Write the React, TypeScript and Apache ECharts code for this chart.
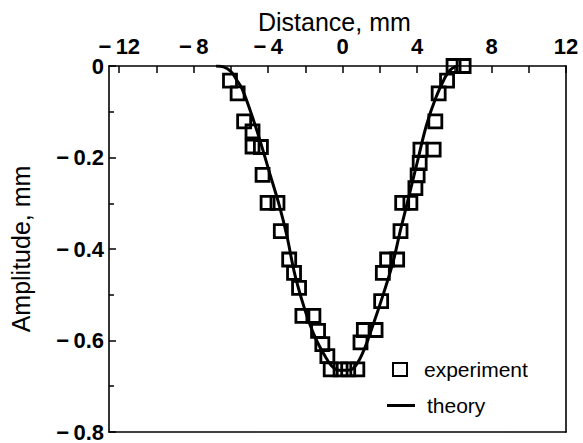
import React, { useEffect, useRef } from "react";
import * as echarts from "echarts";

// Measured surface profile: position (mm) and amplitude (mm)
const expDistance = [
  -6.05, -5.64, -5.29, -4.84, -4.84, -4.39, -4.3, -4.03, -3.5, -3.32, -2.87, -2.61, -2.34, -2.16,
  -1.57, -1.32, -1.09, -0.82, -0.64, -0.11, 0.3, 0.79, 0.96, 1.14, 1.77, 2.07, 2.16, 2.39, 2.93,
  3.11, 3.2, 3.64, 3.91, 4.03, 4.14, 4.18, 4.89, 4.98, 5.16, 5.61, 5.96, 6.5,
];
const expAmplitude = [
  -0.032, -0.06, -0.121, -0.143, -0.176, -0.177, -0.238, -0.299, -0.299, -0.361, -0.423, -0.452,
  -0.485, -0.546, -0.546, -0.579, -0.608, -0.634, -0.663, -0.663, -0.663, -0.663, -0.604, -0.577,
  -0.577, -0.514, -0.452, -0.423, -0.423, -0.361, -0.299, -0.299, -0.267, -0.239, -0.212, -0.183,
  -0.183, -0.121, -0.06, -0.032, 0, 0,
];

// Predicted profile
const theoryDistance = [
  -6.8, -6.4, -6.0, -5.7, -5.4, -4.9, -4.4, -3.9, -3.4, -3.0, -2.6, -2.2, -1.8, -1.4, -1.0, -0.6,
  -0.2, 0.2, 0.6, 1.1, 1.6, 2.2, 2.7, 3.1, 3.5, 4.0, 4.5, 5.0, 5.5, 5.8, 6.1,
];
const theoryAmplitude = [
  0, -0.002, -0.012, -0.03, -0.05, -0.105, -0.168, -0.237, -0.305, -0.37, -0.45, -0.51, -0.56,
  -0.6, -0.63, -0.655, -0.665, -0.665, -0.66, -0.625, -0.57, -0.497, -0.43, -0.36, -0.295, -0.212,
  -0.13, -0.07, -0.025, -0.008, 0,
];

const xTicks = [-12, -10, -8, -6, -4, -2, 0, 2, 4, 6, 8, 10, 12];
const xLabels = [-12, -8, -4, 0, 4, 8, 12];

const FONT = "'Liberation Sans', Arial, Helvetica, sans-serif";

// Minus sign followed by a thin space, as in the printed axis labels
const fmtNeg = (v: number, digits: number) =>
  v === 0
    ? "0"
    : v < 0
    ? "\u2212\u2009" + Math.abs(v).toFixed(digits)
    : Math.abs(v).toFixed(digits);

export default function App() {
  const ref = useRef<HTMLDivElement>(null);

  useEffect(() => {
    if (!ref.current) return;
    const chart = echarts.init(ref.current, null, { renderer: "svg" });

    const expData = expDistance.map((x, i) => [x, expAmplitude[i]]);
    const theoryData = theoryDistance.map((x, i) => [x, theoryAmplitude[i]]);

    const axisLine = { show: true, onZero: false, lineStyle: { color: "#000", width: 1.6 } };

    chart.setOption({
      animation: false,
      backgroundColor: "#fff",
      textStyle: { fontFamily: FONT, color: "#000" },
      title: {
        text: "Distance, mm",
        left: 253,
        top: 3,
        textStyle: {
          fontFamily: FONT,
          fontSize: 25,
          lineHeight: 27,
          fontWeight: "normal",
          color: "#000",
        },
      },
      grid: { left: 108, right: 17, top: 66, bottom: 10 },
      legend: [
        {
          data: [{ name: "experiment", icon: "rect" }],
          left: 387,
          top: 354,
          itemWidth: 14,
          itemHeight: 13,
          textStyle: {
            fontFamily: FONT,
            fontSize: 21,
            color: "#000",
            padding: [0, 0, 0, 12],
          },
        },
        {
          data: [{ name: "theory", icon: "rect" }],
          left: 382,
          top: 390,
          itemWidth: 28,
          itemHeight: 3,
          textStyle: {
            fontFamily: FONT,
            fontSize: 21,
            color: "#000",
            padding: [0, 0, 0, 7],
          },
        },
      ],
      xAxis: [
        {
          type: "value",
          position: "top",
          min: -12.55,
          max: 12,
          axisLine,
          splitLine: { show: false },
          axisTick: {
            show: true,
            inside: true,
            length: 7,
            customValues: xTicks,
            lineStyle: { color: "#000", width: 1.5 },
          },
          axisLabel: {
            customValues: xLabels,
            margin: 11,
            fontFamily: FONT,
            fontSize: 22,
            lineHeight: 18,
            fontWeight: "bold",
            color: "#000",
            formatter: (v: number) => fmtNeg(v, 0),
          },
        },
        {
          type: "value",
          position: "bottom",
          min: -12.55,
          max: 12,
          axisLine,
          axisTick: { show: false },
          axisLabel: { show: false },
          splitLine: { show: false },
        },
      ],
      yAxis: [
        {
          type: "value",
          position: "left",
          min: -0.8,
          max: 0,
          interval: 0.2,
          axisLine,
          splitLine: { show: false },
          axisTick: { show: true, inside: true, length: 7, lineStyle: { color: "#000", width: 1.5 } },
          minorTick: { show: true, splitNumber: 2, length: 5, lineStyle: { color: "#000", width: 1.5 } },
          axisLabel: {
            margin: 5,
            fontFamily: FONT,
            fontSize: 22,
            lineHeight: 20,
            fontWeight: "bold",
            color: "#000",
            formatter: (v: number) => fmtNeg(v, 1),
          },
          name: "Amplitude, mm",
          nameLocation: "middle",
          nameGap: 76,
          nameRotate: 90,
          nameTextStyle: { fontFamily: FONT, fontSize: 25, color: "#000" },
        },
        {
          type: "value",
          position: "right",
          min: -0.8,
          max: 0,
          axisLine,
          axisTick: { show: false },
          axisLabel: { show: false },
          splitLine: { show: false },
        },
      ],
      series: [
        {
          name: "theory",
          type: "line",
          data: theoryData,
          smooth: 0.4,
          showSymbol: false,
          symbol: "none",
          lineStyle: { color: "#000", width: 3 },
          itemStyle: { color: "#000" },
          z: 2,
        },
        {
          name: "experiment",
          type: "scatter",
          data: expData,
          symbol: "rect",
          symbolSize: [13, 13],
          itemStyle: {
            color: "rgba(255,255,255,0)",
            borderColor: "#000",
            borderWidth: 2.8,
            opacity: 1,
          },
          z: 3,
        },
      ],
    });

    return () => chart.dispose();
  }, []);

  return (
    <div
      ref={ref}
      style={{ position: "fixed", left: 0, top: 0, width: 583, height: 443, background: "#fff" }}
    />
  );
}
